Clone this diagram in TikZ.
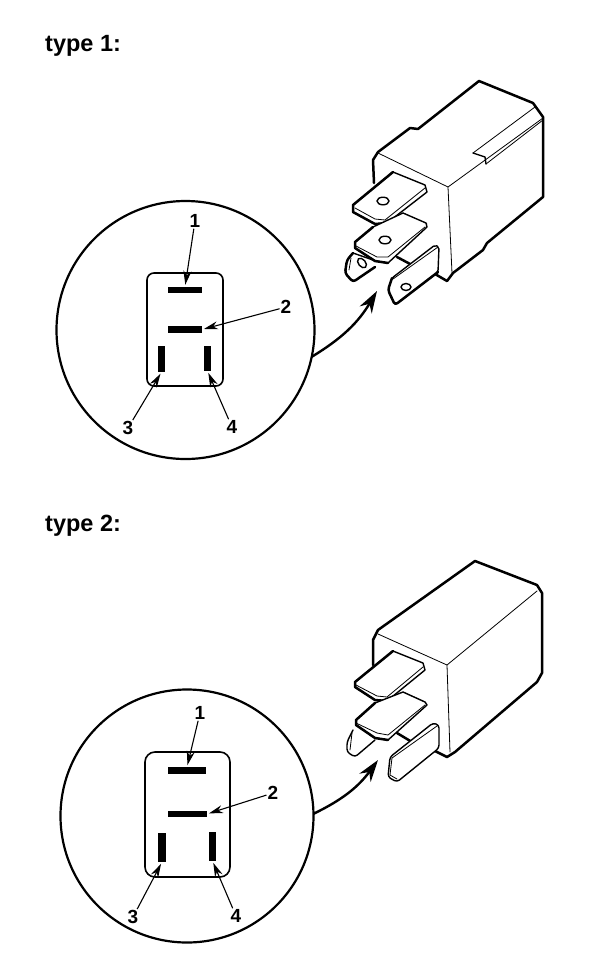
\documentclass[tikz,border=0pt]{standalone}
\usepackage{fontspec}
\setmainfont{Liberation Sans}
\usetikzlibrary{arrows.meta}
\tikzset{
	heading/.style = {font=\bfseries\fontsize{23.5}{24}\selectfont, anchor=base west, inner sep=0pt},
	pinlabel/.style = {font=\bfseries\fontsize{19}{19}\selectfont, inner sep=1pt},
	viewcircle/.style = {shape=circle, draw, line width=2.2pt, inner sep=0pt, outer sep=0pt},
	pinbox/.style = {shape=rectangle, draw, line width=1.6pt, rounded corners=7pt, inner sep=0pt, outer sep=0pt},
	wide bar/.style = {shape=rectangle, fill=black, inner sep=0pt, outer sep=0pt},
	pointer/.style = {-{Stealth[length=14pt,width=8pt]}, line width=1.1pt, shorten >=2pt},
	bigarrow/.style = {-{Stealth[length=22pt,width=14pt]}, line width=2.4pt},
	heavy/.style = {line width=2.5pt, line join=round, line cap=round},
	medium/.style = {line width=1.4pt, line join=round, line cap=round},
	fine/.style = {line width=0.8pt, line join=round, line cap=round},
	blade/.style = {medium, fill=white}
}
\begin{document}
\begin{tikzpicture}[x=1pt,y=-1pt]
	\useasboundingbox (0,0) rectangle (608,970);

	% type 1
	\node[heading] (title1) at (45,51) {type 1:};
	\node[viewcircle, minimum size=258pt] (view1) at (185.5,330) {};
	\node[pinbox, minimum width=76pt, minimum height=113pt] (box1) at (185,329.5) {};
	\node[wide bar, minimum width=34pt, minimum height=6.5pt] (bara1) at (185,290) {};
	\node[wide bar, minimum width=34pt, minimum height=6.5pt] (barb1) at (185,329.5) {};
	\node[wide bar, minimum width=7pt, minimum height=26pt] (barc1) at (161.5,359) {};
	\node[wide bar, minimum width=7pt, minimum height=25pt] (bard1) at (207.5,358.5) {};
	\node[pinlabel] (laba1) at (195,221) {1};
	\node[pinlabel] (labb1) at (286,307) {2};
	\node[pinlabel] (labc1) at (128,428) {3};
	\node[pinlabel] (labd1) at (232,427) {4};
	\draw[pointer] (laba1) -- (bara1.north);
	\draw[pointer] (labb1) -- (barb1.east);
	\draw[pointer] (labc1) -- (barc1.south);
	\draw[pointer] (labd1) -- (bard1.south);

	\coordinate (relay1) at (377,291);
	\draw[bigarrow] (view1.-12.7) to[bend right=14] (relay1);

	% relay of type 1
	\draw[heavy] (374,183) -- (373,160) -- (378,152) -- (410,128) -- (418,129) -- (479,81) -- (533,103)
		-- (543,117) -- (543,197) -- (487,243) -- (483,250) -- (453,273) -- (447,281) -- (435,274);
	\draw[fine] (378,153) -- (448,187) -- (543,118);
	\draw[fine] (448,187) -- (452,273);
	\draw[fine] (473,153) -- (535,107);
	\draw[medium] (473,153) -- (485,157) -- (486,164);
	\draw[fine] (486,164) -- (543,120);
	\draw[blade] (393,172) -- (353,205) -- (353,212) -- (375,224) -- (387,223) -- (427,192) -- (425,185) -- cycle;
	\draw[heavy] (393,172) -- (353,205) -- (353,212) -- (375,224) -- (387,223);
	\draw[fine] (355,208) -- (375,219) -- (385,220) -- (425,188);
	\draw[medium] (383,201) ellipse (6 and 3.8);
	\draw[fine] (403,213) -- (427,224);
	\draw[heavy, rounded corners=3pt] (353,253) -- (347,260) -- (345,273) -- (353,282) -- (375,267);
	\draw[medium] (353,253) -- (373,260);
	\draw[fine] (351,258) -- (349,270);
	\draw[medium, rotate around={-50:(362,263)}] (362,263) ellipse (5.5 and 3.5);
	\draw[blade] (373,227) -- (355,242) -- (355,248) -- (375,261) -- (388,263) -- (427,227) -- (426,223) -- (403,213) -- cycle;
	\draw[heavy] (373,227) -- (355,242) -- (355,248) -- (375,261) -- (388,263);
	\draw[fine] (356,246) -- (377,257) -- (388,257) -- (425,227);
	\draw[medium] (385,240) ellipse (6 and 3.8);
	\draw[heavy] (397,257) -- (412,265);
	\draw[blade, rounded corners=2pt] (435,245) -- (392,278) -- (388,290) -- (395,305) -- (438,272) -- (439,247) -- cycle;
	\draw[heavy, rounded corners=3pt] (392,278) -- (388,290) -- (395,305) -- (438,272);
	\draw[fine] (393,279) -- (438,247);
	\draw[medium] (406,287) ellipse (5 and 3.5);

	% type 2
	\node[heading] (title2) at (45,531) {type 2:};
	\node[viewcircle, minimum size=253pt] (view2) at (187,816) {};
	\node[pinbox, rounded corners=10pt, minimum width=85pt, minimum height=125pt] (box2) at (187.5,814.5) {};
	\node[wide bar, minimum width=38pt, minimum height=7pt] (bara2) at (187,770.5) {};
	\node[wide bar, minimum width=39pt, minimum height=6.5pt] (barb2) at (187.5,814) {};
	\node[wide bar, minimum width=8pt, minimum height=29pt] (barc2) at (162,847.5) {};
	\node[wide bar, minimum width=7pt, minimum height=29pt] (bard2) at (212.5,846.5) {};
	\node[pinlabel] (laba2) at (200,713) {1};
	\node[pinlabel] (labb2) at (273,793) {2};
	\node[pinlabel] (labc2) at (133,917) {3};
	\node[pinlabel] (labd2) at (236,916) {4};
	\draw[pointer] (laba2) -- (bara2.north);
	\draw[pointer] (labb2) -- (barb2.east);
	\draw[pointer] (labc2) -- (barc2.south);
	\draw[pointer] (labd2) -- (bard2.south);

	\coordinate (relay2) at (378,760);
	\draw[bigarrow] (view2.1) to[bend right=14] (relay2);

	% relay of type 2
	\draw[heavy] (373,665) -- (373,640) -- (378,630) -- (475,561) -- (537,585) -- (542,593) -- (542,673)
		-- (537,682) -- (455,752) -- (447,757) -- (433,750);
	\draw[fine] (378,634) -- (447,665) -- (537,591);
	\draw[fine] (447,665) -- (450,752);
	\draw[blade] (393,651) -- (355,682) -- (355,687) -- (375,700) -- (387,701) -- (425,670) -- (423,663) -- cycle;
	\draw[heavy] (393,651) -- (355,682) -- (355,687) -- (375,700) -- (387,701);
	\draw[fine] (356,685) -- (377,696) -- (387,697) -- (423,667);
	\draw[fine] (403,692) -- (425,702);
	\draw[medium, rounded corners=3pt] (353,730) -- (347,742) -- (347,752) -- (355,757) -- (375,740);
	\draw[fine] (352,733) -- (350,750);
	\draw[blade] (375,703) -- (356,720) -- (356,725) -- (375,738) -- (388,740) -- (427,705) -- (425,702) -- (403,692) -- cycle;
	\draw[heavy] (375,703) -- (356,720) -- (356,725) -- (375,738) -- (388,740);
	\draw[fine] (356,723) -- (377,733) -- (388,735) -- (425,705);
	\draw[heavy] (397,733) -- (412,742);
	\draw[blade, rounded corners=3pt] (433,723) -- (390,757) -- (388,777) -- (397,782) -- (439,748) -- (439,725) -- cycle;
	\draw[fine] (392,758) -- (390,775) -- (397,779);
	\draw[fine] (392,758) -- (437,726);
\end{tikzpicture}
\end{document}
